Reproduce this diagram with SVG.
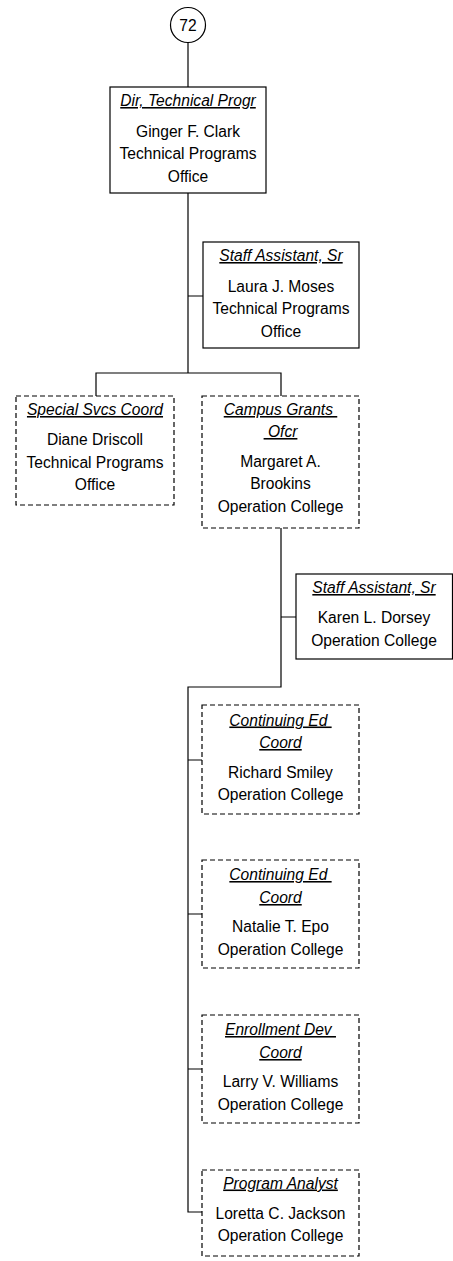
<svg xmlns="http://www.w3.org/2000/svg" width="453" height="1261" viewBox="0 0 453 1261">
<style>
  .box{fill:#fff;stroke:#000;stroke-width:1.2}
  .dash{fill:#fff;stroke:#000;stroke-width:1.2;stroke-dasharray:5,3}
  .t{font-family:"Liberation Sans",Arial,sans-serif;font-size:15.6px;fill:#000;text-anchor:middle}
  .ti{font-style:italic;text-decoration:underline}
  .c{fill:none;stroke:#000;stroke-width:1.2}
</style>
<rect width="453" height="1261" fill="#fff"/>
<g id="connectors">
  <path class="c" d="M188,42.5V87"/>
  <path class="c" d="M188,193V373M188,296H203"/>
  <path class="c" d="M96,396V373H281V396"/>
  <path class="c" d="M281,528V687H188V1212H202M281,617H296"/>
  <path class="c" d="M188,760H202M188,914H202M188,1069H202"/>
</g>
<g id="n72">
  <circle cx="188" cy="25" r="17.5" fill="#fff" stroke="#000" stroke-width="1.2"/>
  <text class="t" x="188" y="30.5">72</text>
</g>
<g id="dir">
  <rect class="box" x="110" y="87" width="156" height="106"/>
  <text class="t ti" x="188" y="106">Dir, Technical Progr</text>
  <text class="t" x="188" y="136.5">Ginger F. Clark</text>
  <text class="t" x="188" y="159">Technical Programs</text>
  <text class="t" x="188" y="181.5">Office</text>
</g>
<g id="staff1">
  <rect class="box" x="203" y="242" width="156" height="106"/>
  <text class="t ti" x="281" y="261">Staff Assistant, Sr</text>
  <text class="t" x="281" y="291.5">Laura J. Moses</text>
  <text class="t" x="281" y="314">Technical Programs</text>
  <text class="t" x="281" y="336.5">Office</text>
</g>
<g id="special">
  <rect class="dash" x="16" y="396" width="158" height="109"/>
  <text class="t ti" x="95" y="415">Special Svcs Coord</text>
  <text class="t" x="95" y="445">Diane Driscoll</text>
  <text class="t" x="95" y="467.5">Technical Programs</text>
  <text class="t" x="95" y="490">Office</text>
</g>
<g id="campus">
  <rect class="dash" x="202" y="396" width="157" height="132"/>
  <text class="t ti" x="280.5" y="415" xml:space="preserve">Campus Grants </text>
  <text class="t ti" x="280.5" y="437" xml:space="preserve"> Ofcr</text>
  <text class="t" x="280.5" y="466.5">Margaret A.</text>
  <text class="t" x="280.5" y="489">Brookins</text>
  <text class="t" x="280.5" y="511.5">Operation College</text>
</g>
<g id="staff2">
  <rect class="box" x="296" y="574" width="156.5" height="85"/>
  <text class="t ti" x="374" y="593">Staff Assistant, Sr</text>
  <text class="t" x="374" y="623">Karen L. Dorsey</text>
  <text class="t" x="374" y="645.5">Operation College</text>
</g>
<g id="conted1">
  <rect class="dash" x="202" y="705" width="157" height="109"/>
  <text class="t ti" x="280.5" y="725.5" xml:space="preserve">Continuing Ed </text>
  <text class="t ti" x="280.5" y="748">Coord</text>
  <text class="t" x="280.5" y="777.5">Richard Smiley</text>
  <text class="t" x="280.5" y="800">Operation College</text>
</g>
<g id="conted2">
  <rect class="dash" x="202" y="860" width="157" height="108"/>
  <text class="t ti" x="280.5" y="880" xml:space="preserve">Continuing Ed </text>
  <text class="t ti" x="280.5" y="903">Coord</text>
  <text class="t" x="280.5" y="932">Natalie T. Epo</text>
  <text class="t" x="280.5" y="954.5">Operation College</text>
</g>
<g id="enroll">
  <rect class="dash" x="202" y="1015" width="157" height="108"/>
  <text class="t ti" x="280.5" y="1035" xml:space="preserve">Enrollment Dev </text>
  <text class="t ti" x="280.5" y="1058">Coord</text>
  <text class="t" x="280.5" y="1087">Larry V. Williams</text>
  <text class="t" x="280.5" y="1109.5">Operation College</text>
</g>
<g id="analyst">
  <rect class="dash" x="202" y="1170" width="157" height="86"/>
  <text class="t ti" x="280.5" y="1188.5">Program Analyst</text>
  <text class="t" x="280.5" y="1218.5">Loretta C. Jackson</text>
  <text class="t" x="280.5" y="1241">Operation College</text>
</g>
</svg>
